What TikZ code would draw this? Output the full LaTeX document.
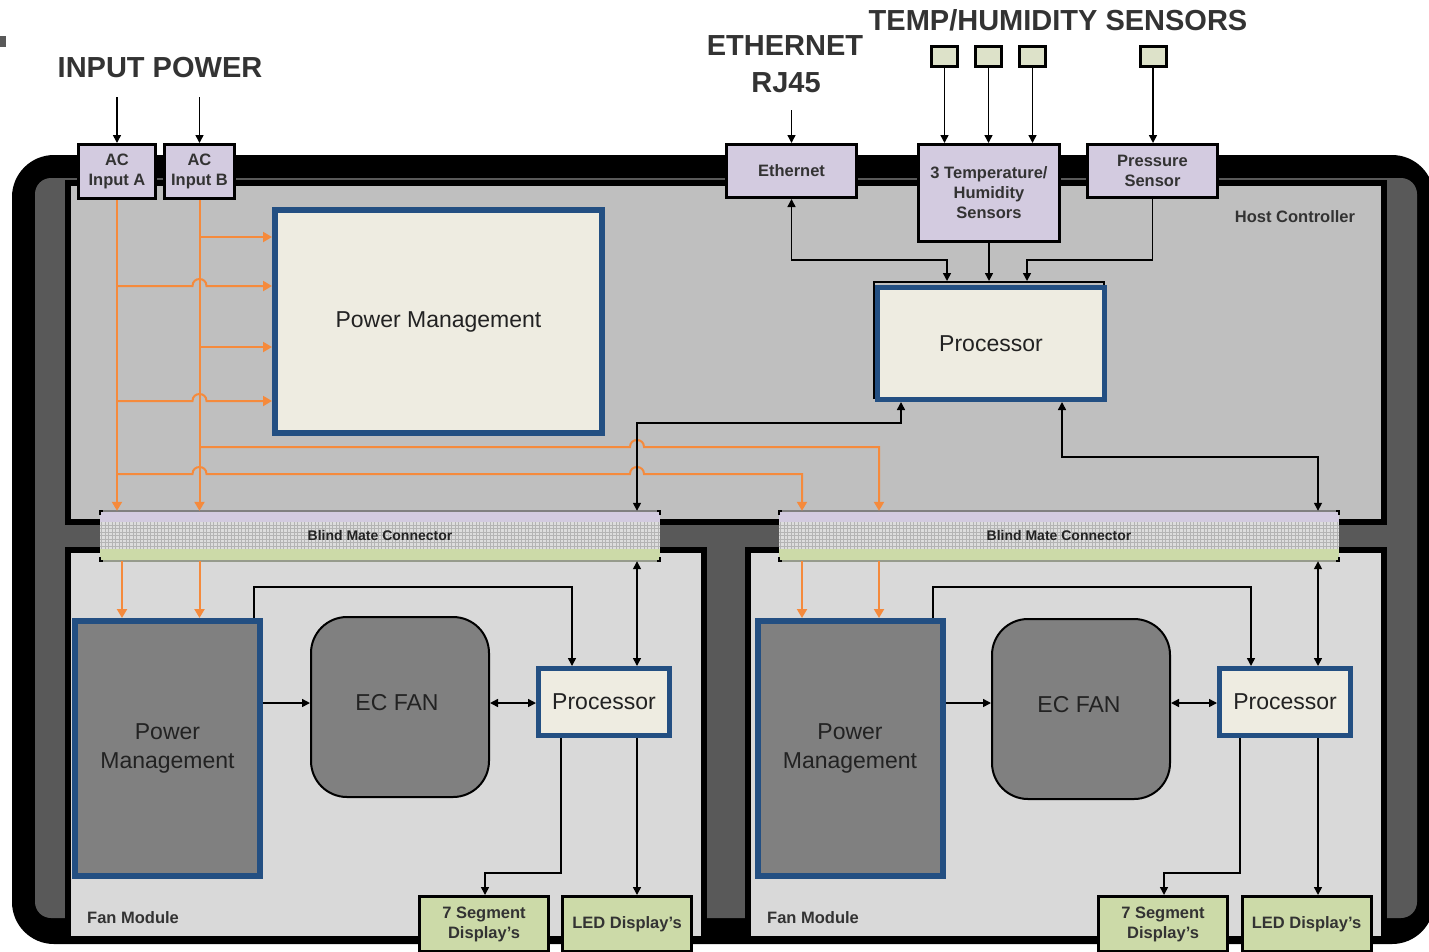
\documentclass[tikz,border=0pt]{standalone}
\usepackage{fontspec}
\setmainfont{Liberation Sans}
\usetikzlibrary{arrows.meta}
\definecolor{lavc}{HTML}{D3CBE0}
\definecolor{sensc}{HTML}{DDE2C9}
\definecolor{segc}{HTML}{CCDAA8}
\definecolor{hostc}{HTML}{BFBFBF}
\definecolor{fanc}{HTML}{D9D9D9}
\definecolor{dgc}{HTML}{595959}
\definecolor{pmgc}{HTML}{808080}
\definecolor{bluec}{HTML}{234F82}
\definecolor{creamc}{HTML}{EEECE1}
\definecolor{orc}{HTML}{F58A3C}
\definecolor{txtc}{HTML}{333333}
\definecolor{txtd}{HTML}{222222}
\definecolor{gridc}{HTML}{B4B4B4}
\definecolor{gridbg}{HTML}{DDDDDD}
\newcommand\myheadfont{\fontsize{29}{34}\selectfont\bfseries}
\newcommand\mylabfont{\fontsize{16.5}{20}\selectfont\bfseries}
\newcommand\mybigfont{\fontsize{23}{29}\selectfont}
\newcommand\mysmallfont{\fontsize{14}{16}\selectfont\bfseries}
\begin{document}
\begin{tikzpicture}[x=1pt,y=-1pt,
  every node/.style={inner sep=0pt},
  lavbox/.style={draw=black,line width=3pt,fill=lavc,font=\mylabfont,text=txtc,align=center},
  segbox/.style={draw=black,line width=3pt,fill=segc,font=\mylabfont,text=txtc,align=center,minimum width=129pt,minimum height=55pt},
  sensbox/.style={draw=black,line width=3pt,fill=sensc,minimum width=26pt,minimum height=20pt},
  bluebox/.style={draw=bluec,line width=5pt,fill=creamc,font=\mybigfont,text=txtd,align=center},
  pmfan/.style={draw=bluec,line width=6pt,fill=pmgc,font=\mybigfont,text=txtd,align=center,minimum width=185pt,minimum height=255pt},
  fanbox/.style={draw=black,line width=2pt,fill=pmgc,rounded corners=36pt,minimum width=178pt,minimum height=180pt},
  modbox/.style={draw=black,line width=6pt,fill=fanc,minimum width=636pt,minimum height=389pt},
  head/.style={font=\myheadfont,text=txtc},
  lab/.style={font=\mylabfont,text=txtc},
  bigtxt/.style={font=\mybigfont,text=txtd},
  arr/.style={line width=1.5pt,-{Triangle[length=8pt,width=8pt]}},
  darr/.style={line width=1.5pt,{Triangle[length=8pt,width=8pt]}-{Triangle[length=8pt,width=8pt]}},
  oln/.style={draw=orc,line width=2pt},
  oarr/.style={oln,-{Triangle[length=9pt,width=10pt]}},
]
\useasboundingbox (0,0) rectangle (1429,951);
\fill[dgc] (0,36) rectangle (6,47);

% frame
\fill[black,rounded corners=42pt] (12,155) rectangle (1434,944);
\fill[dgc,rounded corners=16pt] (35,178) rectangle (1417,918);
\node[draw=black,line width=6pt,fill=hostc,minimum width=1316pt,minimum height=339pt] (host) at (726,352.5) {};
\node[modbox] (fanL) at (386,744.5) {};
\node[modbox] (fanR) at (1066,744.5) {};

% blind mate connectors
\foreach \bx/\nm in {100/bmL,779/bmR}{
  \fill[lavc] (\bx,511) rectangle (\bx+560,522);
  \fill[gridbg] (\bx,522) rectangle (\bx+560,549);
  \draw[gridc,line width=0.8pt,xstep=3.5pt,ystep=3.5pt] (\bx,522) grid (\bx+560,549);
  \fill[segc] (\bx,549) rectangle (\bx+560,561);
  \draw[gray,line width=1.2pt] (\bx,511) -- (\bx+560,511);
  \draw[gray!70!segc,line width=1.2pt] (\bx,561) -- (\bx+560,561);
  \draw[black,line width=1.5pt] (\bx,515) -- (\bx,511) -- (\bx+3,511);
  \draw[black,line width=1.5pt] (\bx+560,515) -- (\bx+560,511) -- (\bx+557,511);
  \draw[black,line width=1.5pt] (\bx,557) -- (\bx,561) -- (\bx+3,561);
  \draw[black,line width=1.5pt] (\bx+560,557) -- (\bx+560,561) -- (\bx+557,561);
  \node[minimum width=560pt,minimum height=50pt] (\nm) at (\bx+280,536) {};
  \node[font=\mysmallfont,text=txtd] (\nm-t) at (\bx+280,535) {Blind Mate Connector};
}

% headings
\node[head] (hIn) at (160,68) {INPUT POWER};
\node[head] (hEth1) at (785,46) {ETHERNET};
\node[head] (hEth2) at (786,83) {RJ45};
\node[head] (hTemp) at (1058,20) {TEMP/HUMIDITY SENSORS};

% top boxes
\node[lavbox,minimum width=77pt,minimum height=54pt] (acA) at (117,171.5) {AC\\Input A};
\node[lavbox,minimum width=70pt,minimum height=54pt] (acB) at (199.5,171.5) {AC\\Input B};
\node[lavbox,minimum width=130pt,minimum height=53pt] (eth) at (791.5,171) {Ethernet};
\node[lavbox,minimum width=141pt,minimum height=97pt] (temp) at (989,193) {3 Temperature/\\Humidity\\Sensors};
\node[lavbox,minimum width=130pt,minimum height=53pt] (pres) at (1152.5,171) {Pressure\\Sensor};

\node[sensbox] (s1) at (944.5,56.5) {};
\node[sensbox] (s2) at (988.5,56.5) {};
\node[sensbox] (s3) at (1032.5,56.5) {};
\node[sensbox] (s4) at (1153,56.5) {};

\coordinate (pinA) at (117,97);
\coordinate (pinB) at (199.5,97);
\coordinate (ethin) at (791.5,110);
\draw[arr] (pinA) -- (acA.north);
\draw[arr] (pinB) -- (acB.north);
\draw[arr] (ethin) -- (eth.north);
\draw[arr] (s1.south) -- (temp.north -| s1.south);
\draw[arr] (s2.south) -- (temp.north -| s2.south);
\draw[arr] (s3.south) -- (temp.north -| s3.south);
\draw[arr] (s4.south) -- (pres.north -| s4.south);

\node[lab] (hostt) at (1295,217) {Host Controller};

% host blocks
\node[bluebox,line width=6pt,minimum width=327pt,minimum height=223pt] (pmH) at (438.5,321.5) {Power Management};
\node[draw=black,line width=2pt,minimum width=230pt,minimum height=116pt] (procHs) at (989,340) {};
\node[bluebox,minimum width=227pt,minimum height=112pt] (procH) at (991,343.5) {Processor};

% orange power lines
\draw[oarr] (acA.south) -- (bmL.north -| acA.south);
\draw[oarr] (acB.south) -- (bmL.north -| acB.south);
\draw[oarr] (acB.south |- 0,237) -- (pmH.west |- 0,237);
\draw[oarr] (acA.south |- 0,286) -- (192.5,286) .. controls (192.5,276.7) and (206.5,276.7) .. (206.5,286) -- (pmH.west |- 0,286);
\draw[oarr] (acB.south |- 0,347) -- (pmH.west |- 0,347);
\draw[oarr] (acA.south |- 0,401) -- (192.5,401) .. controls (192.5,391.7) and (206.5,391.7) .. (206.5,401) -- (pmH.west |- 0,401);
\draw[oarr] (acB.south |- 0,447) -- (630,447) .. controls (630,437.7) and (644,437.7) .. (644,447) -- (879,447) -- (bmR.north -| 879,0);
\draw[oarr] (acA.south |- 0,474) -- (192.5,474) .. controls (192.5,464.7) and (206.5,464.7) .. (206.5,474) -- (630,474) .. controls (630,464.7) and (644,464.7) .. (644,474) -- (802,474) -- (bmR.north -| 802,0);

% host black connectors
\draw[darr] (eth.south) -- (eth.south |- 0,260) -- (947,260) -- (procHs.north -| 947,0);
\draw[arr] (temp.south) -- (procHs.north -| temp.south);
\draw[arr] (pres.south) -- (pres.south |- 0,260) -- (1027,260) -- (procHs.north -| 1027,0);
\draw[darr] (procH.south -| 901,0) -- (901,423) -- (637,423) -- (bmL.north -| 637,0);
\draw[darr] (procH.south -| 1062,0) -- (1062,457) -- (1318,457) -- (bmR.north -| 1318,0);

% left fan module
\node[pmfan] (pmL) at (167.5,748.5) {Power\\Management};
\node[fanbox] (ecL) at (400,707) {};
\node[bigtxt] (ecLt) at (397,703) {EC FAN};
\node[bluebox,minimum width=131pt,minimum height=67pt] (prL) at (604,702) {Processor};
\node[segbox] (sgL) at (484,924) {7 Segment\\Display's};
\node[segbox] (ledL) at (627,924) {LED Display's};
\node[lab,anchor=west] (fmL) at (87,918) {Fan Module};

\draw[oarr] (bmL.south -| 122,0) -- (pmL.north -| 122,0);
\draw[oarr] (bmL.south -| 199.5,0) -- (pmL.north -| 199.5,0);
\draw[darr] (bmL.south -| 637,0) -- (prL.north -| 637,0);
\draw[arr] (pmL.north -| 254,0) -- (254,587) -- (572,587) -- (prL.north -| 572,0);
\draw[arr] (pmL.east |- 0,703) -- (ecL.west |- 0,703);
\draw[darr] (ecL.east |- 0,703) -- (prL.west |- 0,703);
\draw[arr] (prL.south -| 561,0) -- (561,873) -- (485,873) -- (sgL.north -| 485,0);
\draw[arr] (prL.south -| 637,0) -- (ledL.north -| 637,0);

% right fan module
\node[pmfan] (pmR) at (850,748.5) {Power\\Management};
\node[fanbox] (ecR) at (1081,709) {};
\node[bigtxt] (ecRt) at (1079,705) {EC FAN};
\node[bluebox,minimum width=131pt,minimum height=67pt] (prR) at (1285,702) {Processor};
\node[segbox] (sgR) at (1163,924) {7 Segment\\Display's};
\node[segbox] (ledR) at (1306.5,924) {LED Display's};
\node[lab,anchor=west] (fmR) at (767,918) {Fan Module};

\draw[oarr] (bmR.south -| 802,0) -- (pmR.north -| 802,0);
\draw[oarr] (bmR.south -| 879,0) -- (pmR.north -| 879,0);
\draw[darr] (bmR.south -| 1318,0) -- (prR.north -| 1318,0);
\draw[arr] (pmR.north -| 933,0) -- (933,587) -- (1251,587) -- (prR.north -| 1251,0);
\draw[arr] (pmR.east |- 0,703) -- (ecR.west |- 0,703);
\draw[darr] (ecR.east |- 0,703) -- (prR.west |- 0,703);
\draw[arr] (prR.south -| 1240,0) -- (1240,873) -- (1164,873) -- (sgR.north -| 1164,0);
\draw[arr] (prR.south -| 1318,0) -- (ledR.north -| 1318,0);
\end{tikzpicture}
\end{document}
